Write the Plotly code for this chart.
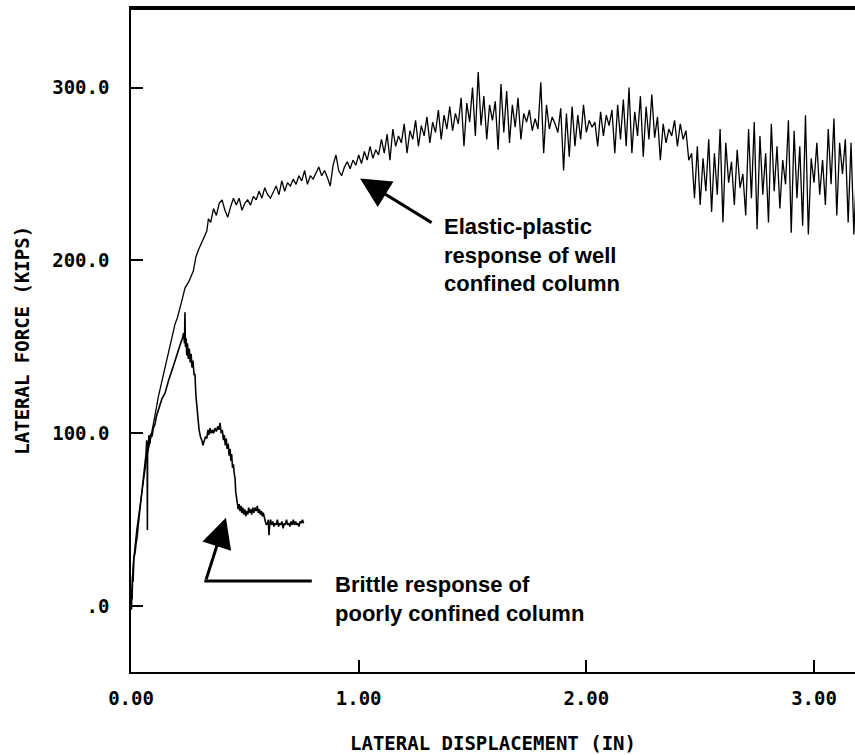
import plotly.graph_objects as go

# ---------------- data ----------------
# Well confined column: initial elastic rise (irregularly sampled)
WELL_EARLY_X = [0, 0.004, 0.010, 0.025, 0.036, 0.047, 0.058, 0.069, 0.080, 0.091,
                0.105, 0.120, 0.140, 0.157, 0.175, 0.193, 0.204, 0.215, 0.226, 0.237,
                0.255, 0.274, 0.285, 0.296, 0.310, 0.322, 0.333, 0.340]
WELL_EARLY_Y = [0, 12, 25, 44, 55, 65, 76, 86, 93, 100,
                110, 121, 132, 142, 153, 163, 167, 172, 178, 184,
                188, 194, 202, 206, 210, 214, 217, 224]

# Well confined column: plastic plateau, sampled every 0.0125 in from 0.35 in
WELL_START = 0.35
WELL_STEP = 0.0125
WELL_PLATEAU_Y = [
    222, 230, 226, 233, 235, 229, 225, 231, 236, 232,
    236, 229, 233, 235, 232, 237, 235, 240, 236, 242,
    238, 236, 240, 243, 238, 246, 240, 245, 243, 247,
    244, 249, 246, 252, 244, 249, 247, 251, 254, 249,
    252, 248, 243, 255, 261, 252, 249, 254, 257, 253,
    258, 255, 261, 256, 263, 258, 266, 259, 264, 261,
    270, 262, 273, 258, 276, 266, 272, 268, 279, 262,
    275, 270, 281, 266, 278, 272, 283, 268, 280, 274,
    287, 270, 284, 276, 289, 275, 285, 279, 294, 266,
    291, 280, 300, 272, 309, 278, 295, 270, 290, 281,
    292, 264, 302, 274, 298, 268, 290, 277, 294, 270,
    285, 280, 287, 275, 282, 276, 303, 262, 290, 276,
    283, 279, 274, 288, 252, 285, 260, 289, 266, 284,
    270, 290, 274, 281, 277, 280, 266, 286, 272, 284,
    278, 287, 262, 290, 270, 293, 266, 300, 262, 286,
    272, 295, 260, 289, 270, 296, 271, 283, 258, 279,
    268, 276, 272, 281, 266, 279, 270, 275, 258, 262,
    236, 266, 232, 259, 240, 270, 228, 262, 238, 276,
    222, 268, 245, 257, 232, 264, 242, 250, 226, 276,
    236, 280, 218, 272, 238, 262, 222, 279, 240, 266,
    230, 258, 244, 281, 216, 275, 236, 266, 220, 284,
    215, 259, 245, 268, 238, 258, 232, 276, 244, 282,
    226, 268, 250, 270, 222, 268, 215, 256,
]

# Poorly confined column (brittle response)
BRITTLE_X = [
    0, 0.002, 0.004, 0.005, 0.007, 0.009, 0.013, 0.018, 0.022, 0.027,
    0.031, 0.036, 0.040, 0.044, 0.048, 0.053, 0.057, 0.062, 0.066, 0.069,
    0.071, 0.072, 0.073, 0.075, 0.079, 0.083, 0.088, 0.092, 0.098, 0.105,
    0.112, 0.120, 0.128, 0.136, 0.149, 0.158, 0.166, 0.179, 0.188, 0.198,
    0.208, 0.218, 0.226, 0.231, 0.235, 0.237, 0.239, 0.242, 0.245, 0.248,
    0.252, 0.256, 0.260, 0.264, 0.268, 0.272, 0.277, 0.281, 0.285, 0.289,
    0.294, 0.299, 0.305, 0.311, 0.316, 0.321, 0.327, 0.333, 0.338, 0.342,
    0.347, 0.352, 0.358, 0.363, 0.369, 0.375, 0.381, 0.386, 0.391, 0.396,
    0.401, 0.406, 0.410, 0.414, 0.418, 0.422, 0.427, 0.431, 0.435, 0.439,
    0.442, 0.446, 0.450, 0.454, 0.457, 0.460, 0.464, 0.468, 0.471, 0.475,
    0.479, 0.483, 0.487, 0.491, 0.495, 0.500, 0.504, 0.508, 0.513, 0.517,
    0.521, 0.526, 0.530, 0.535, 0.540, 0.545, 0.550, 0.555, 0.559, 0.564,
    0.568, 0.573, 0.577, 0.581, 0.586, 0.590, 0.595, 0.600, 0.603, 0.606,
    0.609, 0.613, 0.618, 0.623, 0.628, 0.633, 0.638, 0.643, 0.648, 0.653,
    0.658, 0.663, 0.668, 0.673, 0.678, 0.683, 0.688, 0.693, 0.698, 0.703,
    0.708, 0.713, 0.718, 0.723, 0.728, 0.733, 0.738, 0.743, 0.748, 0.753,
    0.758,
]
BRITTLE_Y = [
    0, -2, 10, 4, 18, 14, 28, 31, 36, 40,
    46, 52, 58, 63, 67, 74, 79, 84, 88, 96,
    92, 44, 95, 90, 99, 94, 100, 98, 103, 105,
    110, 113, 116, 120, 123, 128, 131, 136, 140, 144,
    148, 152, 155, 158, 152, 170, 150, 155, 145, 152,
    143, 149, 141, 146, 138, 142, 134, 134, 122, 115,
    108, 102, 98, 96, 93, 95, 98, 97, 102, 99,
    103, 100, 102, 100, 103, 101, 104, 102, 106, 100,
    102, 96, 99, 93, 97, 91, 94, 87, 91, 84,
    88, 80, 82, 76, 74, 66, 62, 58, 56, 59,
    55, 58, 54, 57, 53, 56, 52, 55, 53, 57,
    54, 56, 53, 57, 54, 57, 55, 58, 54, 56,
    53, 55, 52, 54, 50, 49, 47, 48, 50, 41,
    47, 50, 47, 49, 46, 48, 47, 50, 46, 48,
    47, 49, 45, 48, 47, 50, 47, 48, 46, 49,
    47, 50, 47, 49, 47, 48, 46, 49, 48, 50,
    48,
]

X_TICKS = [0, 1, 2, 3]
X_TICK_TEXT = ["0.00", "1.00", "2.00", "3.00"]
Y_TICKS = [0, 100, 200, 300]
Y_TICK_TEXT = [".0", "100.0", "200.0", "300.0"]
X_RANGE = [0, 3.18]
Y_RANGE = [-38.1, 346.0]

X_TITLE = "LATERAL DISPLACEMENT (IN)"
Y_TITLE = "LATERAL FORCE (KIPS)"
NOTE_WELL = "Elastic-plastic<br>response of well<br>confined column"
NOTE_BRITTLE = "Brittle response of<br>poorly confined column"

# ---------------- figure ----------------
well_x = WELL_EARLY_X + [WELL_START + i * WELL_STEP for i in range(len(WELL_PLATEAU_Y))]
well_y = WELL_EARLY_Y + WELL_PLATEAU_Y

fig = go.Figure()
fig.add_trace(go.Scatter(x=well_x, y=well_y, mode="lines",
                         line=dict(color="black", width=1.3), hoverinfo="skip"))
fig.add_trace(go.Scatter(x=BRITTLE_X, y=BRITTLE_Y, mode="lines",
                         line=dict(color="black", width=1.6), hoverinfo="skip"))

tick_font = dict(family="DejaVu Sans Mono", size=19, color="black", weight="bold")
note_font = dict(family="Liberation Sans, Arial", size=22, color="black", weight="bold")

fig.update_layout(
    width=855, height=755,
    margin=dict(l=131, r=0, t=8, b=83),
    paper_bgcolor="white", plot_bgcolor="white",
    showlegend=False,
    xaxis=dict(range=X_RANGE, tickvals=X_TICKS, ticktext=X_TICK_TEXT,
               ticks="inside", ticklen=12, tickwidth=1.5, tickcolor="black",
               showline=True, linecolor="black", linewidth=2, mirror=True,
               showgrid=False, zeroline=False, tickfont=tick_font,
               ticklabelstandoff=8),
    yaxis=dict(range=Y_RANGE, tickvals=Y_TICKS, ticktext=Y_TICK_TEXT,
               ticks="inside", ticklen=12, tickwidth=1.5, tickcolor="black",
               showline=True, linecolor="black", linewidth=1.5,
               showgrid=False, zeroline=False, tickfont=tick_font,
               ticklabelstandoff=16),
)

# top frame line, drawn just inside the plot area
fig.add_shape(type="line", xref="paper", yref="y", x0=0, x1=1,
              y0=Y_RANGE[1] - 0.6, y1=Y_RANGE[1] - 0.6,
              layer="above", line=dict(color="black", width=2))

# axis titles
fig.add_annotation(text=X_TITLE, xref="paper", yref="paper", x=0.5, y=-0.107,
                   xanchor="center", yanchor="middle", showarrow=False, font=tick_font)
fig.add_annotation(text=Y_TITLE, xref="paper", yref="paper", x=-0.151, y=0.5,
                   xanchor="center", yanchor="middle", textangle=-90,
                   showarrow=False, font=tick_font)

# notes
fig.add_annotation(text=NOTE_WELL, x=1.365, y=203.3, xanchor="left", yanchor="middle",
                   align="left", showarrow=False, font=note_font)
fig.add_annotation(text=NOTE_BRITTLE, x=0.887, y=4.3, xanchor="left", yanchor="middle",
                   align="left", showarrow=False, font=note_font)

# arrows
fig.add_annotation(x=1.006, y=247.3, ax=1.327, ay=221.3, axref="x", ayref="y",
                   text="", showarrow=True, arrowhead=2, arrowsize=2,
                   arrowwidth=3, arrowcolor="black")
fig.add_annotation(x=0.417, y=51.2, ax=0.328, ay=14.6, axref="x", ayref="y",
                   text="", showarrow=True, arrowhead=2, arrowsize=2,
                   arrowwidth=3, arrowcolor="black")
fig.add_shape(type="line", x0=0.322, y0=14.6, x1=0.794, y1=14.6,
              line=dict(color="black", width=3))

fig.write_html("out.html", config={"displayModeBar": False})
